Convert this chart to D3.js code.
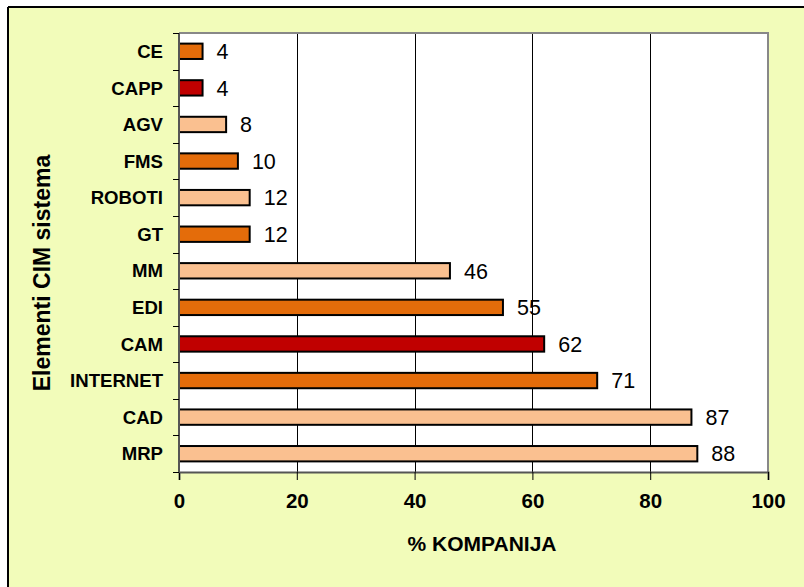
<!DOCTYPE html>
<html>
<head>
<meta charset="utf-8">
<script src="https://cdn.jsdelivr.net/npm/d3@7"></script>
<style>
html,body{margin:0;padding:0;background:#fff;}
svg{display:block;font-family:"Liberation Sans",Arial,sans-serif;}
</style>
</head>
<body>
<svg id="chart" width="804" height="587"></svg>
<script>
const categories = ["CE","CAPP","AGV","FMS","ROBOTI","GT","MM","EDI","CAM","INTERNET","CAD","MRP"];
const values = [4,4,8,10,12,12,46,55,62,71,87,88];
const groups = ["orange","red","peach","orange","peach","orange","peach","orange","red","orange","peach","peach"];
const xTicks = [0,20,40,60,80,100];
const xTitle = "% KOMPANIJA";
const yTitle = "Elementi CIM sistema";
const palette = {orange:"#E46C0A", red:"#C00000", peach:"#FAC090"};

const svg = d3.select("#chart");
const W = 804, H = 587;
const plot = {left:179, right:768, top:33, bottom:472};

// background panel
svg.append("rect").attr("x",8).attr("y",7).attr("width",W-8).attr("height",H-7).attr("fill","#F2FCBA");
svg.append("line").attr("x1",8).attr("x2",W).attr("y1",7).attr("y2",7).attr("stroke","#000").attr("stroke-width",2);
svg.append("line").attr("x1",8).attr("x2",8).attr("y1",7).attr("y2",H).attr("stroke","#000").attr("stroke-width",2);

const x = d3.scaleLinear().domain([0,100]).range([plot.left, plot.right]);
const y = d3.scaleBand().domain(categories).range([plot.top, plot.bottom]).paddingInner(0.58).paddingOuter(0.29);
const yb = d3.scaleBand().domain(categories).range([plot.top, plot.bottom]);

// plot area
svg.append("rect").attr("x",plot.left).attr("y",plot.top).attr("width",plot.right-plot.left).attr("height",plot.bottom-plot.top).attr("fill","#fff");

// gridlines
svg.append("g").selectAll("line").data(xTicks.filter(t=>t>0&&t<100)).join("line")
  .attr("x1",d=>Math.round(x(d))+0.5).attr("x2",d=>Math.round(x(d))+0.5)
  .attr("y1",plot.top).attr("y2",plot.bottom).attr("stroke","#000").attr("stroke-width",1);

// plot border top/right gray
svg.append("path").attr("d",`M${plot.left},${plot.top}H${plot.right}V${plot.bottom}`)
  .attr("fill","none").attr("stroke","#888").attr("stroke-width",2);

// bars
svg.append("g").selectAll("rect").data(categories).join("rect")
  .attr("x",x(0)).attr("y",(d)=>y(d))
  .attr("width",(d,i)=>x(values[i])-x(0)).attr("height",y.bandwidth())
  .attr("fill",(d,i)=>palette[groups[i]]).attr("stroke","#000").attr("stroke-width",2);

// value labels
svg.append("g").selectAll("text").data(categories).join("text")
  .attr("x",(d,i)=>x(values[i])+14).attr("y",d=>y(d)+y.bandwidth()/2)
  .attr("dy","0.36em").attr("font-size",21.5).attr("fill","#000")
  .text((d,i)=>values[i]);

// x axis
const xAxis = svg.append("g").attr("transform",`translate(0,${plot.bottom})`)
  .call(d3.axisBottom(x).tickValues(xTicks).tickSize(8).tickPadding(13));
xAxis.select(".domain").attr("stroke","#555").attr("stroke-width",2);
xAxis.selectAll(".tick line").attr("stroke","#000");
xAxis.selectAll("text").attr("font-size",20.5).attr("font-weight","bold").attr("fill","#000").attr("font-family","Liberation Sans, Arial, sans-serif");

// y axis: ticks at band boundaries
const yAxisG = svg.append("g");
yAxisG.append("line").attr("x1",plot.left).attr("x2",plot.left).attr("y1",plot.top).attr("y2",plot.bottom+1)
  .attr("stroke","#555").attr("stroke-width",2);
const bounds = categories.map(c=>yb(c)).concat([plot.bottom]);
yAxisG.selectAll("line.t").data(bounds).join("line").attr("class","t")
  .attr("x1",plot.left-6).attr("x2",plot.left).attr("y1",d=>Math.round(d)+0.5).attr("y2",d=>Math.round(d)+0.5)
  .attr("stroke","#000").attr("stroke-width",1);
yAxisG.selectAll("text").data(categories).join("text")
  .attr("x",plot.left-16).attr("y",d=>yb(d)+yb.bandwidth()/2).attr("dy","0.36em")
  .attr("text-anchor","end").attr("font-size",18.6).attr("font-weight","bold").attr("fill","#000")
  .text(d=>d);

// titles
svg.append("text").attr("x",482).attr("y",551).attr("text-anchor","middle")
  .attr("font-size",21).attr("font-weight","bold").text(xTitle);
svg.append("text").attr("transform",`translate(50,273) rotate(-90)`).attr("text-anchor","middle")
  .attr("font-size",23).attr("font-weight","bold").text(yTitle);
</script>
</body>
</html>
